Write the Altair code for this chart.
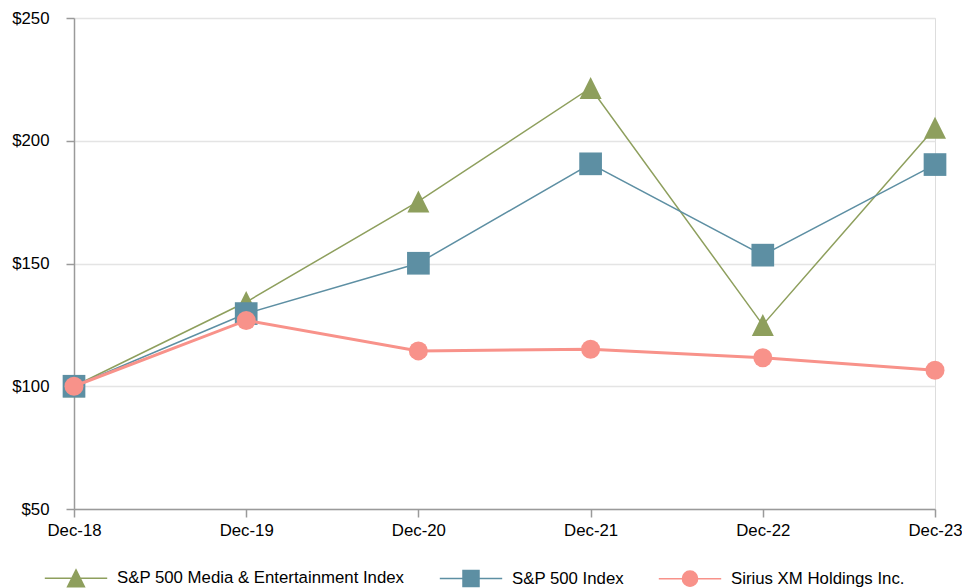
import altair as alt
import pandas as pd

periods = ["Dec-18", "Dec-19", "Dec-20", "Dec-21", "Dec-22", "Dec-23"]
series_names = [
    "S&P 500 Media & Entertainment Index",
    "S&P 500 Index",
    "Sirius XM Holdings Inc.",
]
media = [100, 134.3, 175.3, 221.5, 125.0, 205.3]
sp500 = [100, 129.6, 150.1, 190.6, 153.4, 190.3]
sirius = [100, 126.8, 114.4, 115.1, 111.6, 106.5]
y_ticks = [50, 100, 150, 200, 250]

colors = ["#8e9f5d", "#5d8fa3", "#f8928a"]
line_widths = [1.5, 1.5, 3]

rows = []
for name, vals in zip(series_names, [media, sp500, sirius]):
    for p, v in zip(periods, vals):
        rows.append({"period": p, "series": name, "value": v})
df = pd.DataFrame(rows)

FONT = "Liberation Sans"
AX = "#9a9a9a"

x_enc = alt.X(
    "period:O",
    sort=periods,
    scale=alt.Scale(type="point", padding=0),
    axis=alt.Axis(
        title=None, labelAngle=0, labelFont=FONT, labelFontSize=16.8,
        labelColor="black", labelPadding=5, tickSize=8, tickColor=AX,
        tickWidth=1.5, domainColor=AX, domainWidth=1.5, grid=False,
    ),
)
y_enc = alt.Y(
    "value:Q",
    scale=alt.Scale(domain=[50, 250], nice=False, zero=False),
    axis=alt.Axis(
        title=None, values=y_ticks, format="$.0f", labelFont=FONT,
        labelFontSize=16.8, labelColor="black", labelPadding=17,
        tickSize=8, tickColor=AX, tickWidth=1.5, domainColor=AX,
        domainWidth=1.5, grid=True, gridColor="#e4e4e4", gridWidth=1.5,
    ),
)

base = alt.Chart(df).encode(x=x_enc, y=y_enc)

tri_plot = "M0,-1L1,1H-1Z"
plot_shapes = [tri_plot, "square", "circle"]
plot_sizes = [484, 515, 361]

layers = []
for name, c, w, shp, sz in zip(series_names, colors, line_widths, plot_shapes, plot_sizes):
    sub = base.transform_filter(alt.datum.series == name)
    layers.append(sub.mark_line(color=c, strokeWidth=w))
    layers.append(sub.mark_point(shape=shp, size=sz, filled=True, color=c, opacity=1))

circ = ("M0.95,0C0.95,0.525 0.525,0.95 0,0.95C-0.525,0.95 -0.95,0.525 -0.95,0"
        "C-0.95,-0.525 -0.525,-0.95 0,-0.95C0.525,-0.95 0.95,-0.525 0.95,0Z")
legend_paths = [
    "M-3.9,0H3.9M0,-1.05L1.05,1.05H-1.05Z",
    "M-3.9,0H3.9M-1,-1H1V1H-1Z",
    "M-3.9,0H3.9M" + circ[1:],
]

leg = alt.Legend(
    title=None, orient="none", legendX=-7, legendY=551, direction="horizontal",
    symbolSize=256, labelFont=FONT, labelFontSize=16.8, labelColor="black",
    labelOffset=32, columnPadding=31, padding=0, labelLimit=500,
    symbolOpacity=1,
)

legend_layer = base.transform_filter("false").mark_point(filled=True, opacity=1).encode(
    fill=alt.Fill("series:N", scale=alt.Scale(domain=series_names, range=colors), legend=leg),
    stroke=alt.Stroke("series:N", scale=alt.Scale(domain=series_names, range=colors), legend=leg),
    shape=alt.Shape("series:N", scale=alt.Scale(domain=series_names, range=legend_paths), legend=leg),
    strokeWidth=alt.StrokeWidth("series:O", scale=alt.Scale(domain=series_names, range=line_widths), legend=leg),
)

chart = alt.layer(*layers, legend_layer).properties(
    width=861,
    height=491,
    autosize=alt.AutoSizeParams(type="none"),
    padding={"left": 74, "top": 18, "right": 27, "bottom": 79},
).configure_view(stroke=None).configure(background="white")

chart.save("out.html", embed_options={"renderer": "svg", "actions": False})
